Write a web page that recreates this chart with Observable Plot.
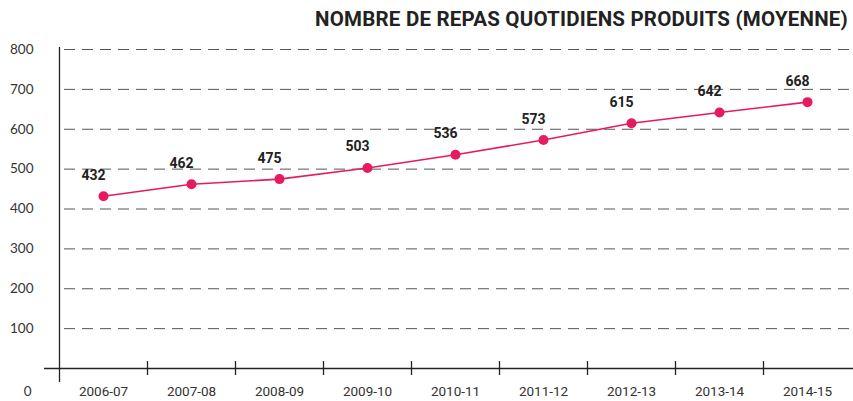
<!DOCTYPE html>
<html>
<head>
<meta charset="utf-8">
<script src="https://cdn.jsdelivr.net/npm/d3@7"></script>
<script src="https://cdn.jsdelivr.net/npm/@observablehq/plot@0.6"></script>
<style>
  html, body { margin: 0; padding: 0; background: #fff; }
  #wrap { width: 853px; height: 401px; position: relative; overflow: hidden; }
  #title { height: 35px; box-sizing: border-box; padding-right: 5px; padding-top: 8px; text-align: right;
    font-family: Roboto, sans-serif; font-weight: 700; font-size: 20.5px; color: #222; line-height: 22px; letter-spacing: 0.2px; white-space: nowrap; }
</style>
</head>
<body>
<div id="wrap">
  <div id="title">NOMBRE DE REPAS QUOTIDIENS PRODUITS (MOYENNE)</div>
  <div id="chart"></div>
</div>
<script>
const seasons = ["2006-07","2007-08","2008-09","2009-10","2010-11","2011-12","2012-13","2013-14","2014-15"];
const meals = [432, 462, 475, 503, 536, 573, 615, 642, 668];
const yTicks = [0, 100, 200, 300, 400, 500, 600, 700, 800];

const data = seasons.map((s, i) => ({season: s, value: meals[i]}));
const pink = "#e81a5e";
const half = 44;

const chart = Plot.plot({
  width: 853,
  height: 366,
  marginLeft: 59,
  marginRight: 2,
  marginTop: 14,
  marginBottom: 33,
  x: {type: "band", domain: seasons, padding: 0, axis: null},
  y: {domain: [0, 800], axis: null},
  marks: [
    Plot.ruleY(yTicks.filter(d => d > 0), {stroke: "#555", strokeWidth: 1, strokeDasharray: "11,7", strokeDashoffset: -5, insetRight: -2}),
    Plot.ruleY(yTicks.filter(d => d > 0), {stroke: "#222", strokeWidth: 1.3, insetLeft: -7, x1: seasons[0], x2: seasons[0], dx: -half}),
    Plot.ruleY([0], {stroke: "#222", strokeWidth: 1.3, insetLeft: -15, insetRight: -2}),
    Plot.ruleX([seasons[0]], {y1: -35, y2: 805, dx: -half, stroke: "#222", strokeWidth: 1.3}),
    Plot.ruleX(seasons.slice(1), {y1: -17.5, y2: 17.5, dx: -half, stroke: "#222", strokeWidth: 1.3}),
    Plot.text(yTicks.filter(d => d > 0), {x: () => seasons[0], y: d => d, dx: -half - 26, textAnchor: "end", fontSize: 13.5, fontFamily: "Lato, sans-serif", fill: "#333"}),
    Plot.text([0], {x: () => seasons[0], y: 0, dx: -half - 28, dy: 23, textAnchor: "end", fontSize: 13.5, fontFamily: "Lato, sans-serif", fill: "#333"}),
    Plot.text(seasons, {x: d => d, y: 0, dy: 23, fontSize: 13.5, fontFamily: "Roboto, sans-serif", fill: "#333"}),
    Plot.line(data, {x: "season", y: "value", stroke: pink, strokeWidth: 1.6}),
    Plot.dot(data, {x: "season", y: "value", r: 5, fill: pink, stroke: "none"}),
    Plot.text(data, {x: "season", y: "value", text: d => String(d.value), dx: -10, dy: -21, fontSize: 14, fontWeight: 700, fontFamily: "Roboto, sans-serif", fill: "#222"})
  ]
});
document.getElementById("chart").appendChild(chart);
</script>
</body>
</html>
